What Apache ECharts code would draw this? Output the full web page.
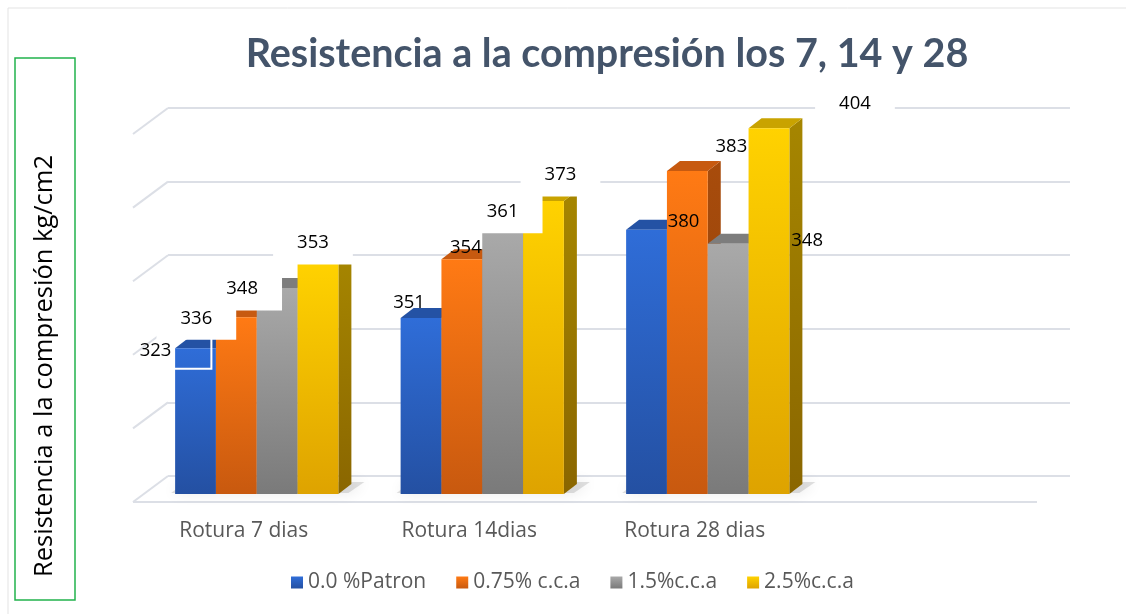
<!DOCTYPE html>
<html>
<head>
<meta charset="utf-8">
<script src="https://cdn.jsdelivr.net/npm/echarts@6/dist/echarts.min.js"></script>
<style>
  html, body { margin: 0; padding: 0; background: #fff; }
  #main { width: 1126px; height: 614px; }
</style>
</head>
<body>
<div id="main"></div>
<script>
const categories = ['Rotura 7 dias', 'Rotura 14dias', 'Rotura 28 dias', '']
const seriesNames = ['0.0 %Patron', '0.75% c.c.a', '1.5%c.c.a', '2.5%c.c.a']

// column heights as drawn (hidden axis, 0-500)
const patron = [198, 239, 359]
const cca075 = [240, 319, 439]
const cca15 = [280, 355, 340]
const cca25 = [314, 398, 497]

// numbers printed on the data labels
const patronLabels = [323, 351, 380]
const cca075Labels = [336, 354, 383]
const cca15Labels = [348, 361, 348]
const cca25Labels = [353, 373, 404]

const yTicks = [0, 100, 200, 300, 400, 500]

const heights = [patron, cca075, cca15, cca25]
const labels = [patronLabels, cca075Labels, cca15Labels, cca25Labels]

// layout / style only
const FRONT_DX = -24, FRONT_DY = 18   // front face of the columns vs back wall
const DEPTH_X = 13, DEPTH_Y = -10     // column depth
const BAR_FRAC = 0.181
const labelShift = [
    [[-40, 2], [-12, -15], [37, -8]],
    [[-40, 1], [4, -11], [44, -24]],
    [[-35, 1], [0, -21], [79, -3]],
    [[-5, -20], [17, -26], [86, -24]],
]
const labelBox = [
    ['line', null, null],
    ['fill', null, null],
    ['fill', 'fill', null],
    ['fill', 'fill', 'fill'],
]
const faces = [
    { front: ['#2f6dd8', '#2450a2'], side: ['#1f4b95', '#1a3f80'], top: '#2452a4' },
    { front: ['#ff7a14', '#c8590f'], side: ['#a84c0c', '#8e3f09'], top: '#c75a10' },
    { front: ['#a9a9a9', '#7a7a7a'], side: ['#6f6f6f', '#5e5e5e'], top: '#7d7d7d' },
    { front: ['#ffd200', '#dea300'], side: ['#a68600', '#8a6600'], top: '#c9a300' },
]

const vgrad = (c) => new echarts.graphic.LinearGradient(0, 0, 0, 1, [
    { offset: 0, color: c[0] }, { offset: 1, color: c[1] }])

function barGeom(api, cat, v, s) {
    const top = api.coord([cat, v])
    const base = api.coord([cat, 0])
    const band = api.size([1, 0])[0]
    const w = band * BAR_FRAC
    const x0 = top[0] + FRONT_DX - 2 * w + s * w
    return { x0, x1: x0 + w, yt: top[1] + FRONT_DY, yb: base[1] + FRONT_DY, w }
}

function barSeries(s) {
    const f = faces[s]
    return {
        name: seriesNames[s],
        type: 'custom',
        z: 3,
        itemStyle: { color: vgrad(f.front) },
        data: heights[s].map((v, i) => [i, v]),
        renderItem(params, api) {
            const g = barGeom(api, api.value(0), api.value(1), s)
            return {
                type: 'group',
                children: [
                    { type: 'polygon', shape: { points: [[g.x1, g.yt], [g.x1 + DEPTH_X, g.yt + DEPTH_Y],
                        [g.x1 + DEPTH_X, g.yb + DEPTH_Y], [g.x1, g.yb]] },
                      style: { fill: vgrad(f.side) } },
                    { type: 'polygon', shape: { points: [[g.x0, g.yt], [g.x1, g.yt],
                        [g.x1 + DEPTH_X, g.yt + DEPTH_Y], [g.x0 + DEPTH_X, g.yt + DEPTH_Y]] },
                      style: { fill: f.top } },
                    { type: 'rect', shape: { x: g.x0, y: g.yt, width: g.w, height: g.yb - g.yt },
                      style: { fill: vgrad(f.front) } },
                ]
            }
        }
    }
}

const labelData = []
labels.forEach((arr, s) => arr.forEach((t, i) => labelData.push([i, heights[s][i], s, t])))

const option = {
    animation: false,
    backgroundColor: '#fff',
    title: {
        text: 'Resistencia a la compresión los 7, 14 y 28',
        left: 607, top: 34, padding: 0, textAlign: 'center',
        textStyle: { fontFamily: 'Lato', fontWeight: 'bold', fontSize: 39.5, color: '#44546a' }
    },
    legend: {
        data: seriesNames,
        left: 286, top: 567,
        icon: 'rect', itemWidth: 12, itemHeight: 12, itemGap: 30,
        textStyle: { fontFamily: 'Open Sans', fontSize: 21, color: '#595959' }
    },
    grid: { left: 168, right: 56, top: 108, bottom: 138 },
    xAxis: {
        type: 'category',
        data: categories,
        axisLine: { show: false }, axisTick: { show: false },
        axisLabel: { margin: 45, padding: [0, 74, 0, 0], fontFamily: 'Open Sans', fontSize: 21, color: '#595959' }
    },
    yAxis: {
        type: 'value', min: 0, max: 500, interval: 100,
        axisLabel: { show: false }, axisLine: { show: false }, axisTick: { show: false },
        splitLine: { lineStyle: { color: '#dcdfe6', width: 2 } }
    },
    graphic: [
        { type: 'rect', shape: { x: 8, y: 8, width: 1200, height: 700 },
          style: { fill: 'none', stroke: '#e3e3e3', lineWidth: 1 } },
        { type: 'rect', shape: { x: 15, y: 58, width: 60, height: 542 },
          style: { fill: '#fff', stroke: '#22b24c', lineWidth: 1.5 } },
        { type: 'text', x: 45, y: 366, rotation: Math.PI / 2,
          style: { text: 'Resistencia a la compresión kg/cm2', fontFamily: 'Open Sans', fontSize: 25.5,
                   fill: '#000', align: 'center', verticalAlign: 'middle' } },
    ],
    series: [
        {
            type: 'custom', z: 1, silent: true,
            data: yTicks.map(v => [0, v]),
            renderItem(params, api) {
                const cs = params.coordSys
                const y = api.coord([0, api.value(1)])[1]
                const lineStyle = { stroke: '#dcdfe6', lineWidth: 2 }
                const kids = [{ type: 'line', shape: { x1: cs.x - 35, y1: y + 26, x2: cs.x, y2: y }, style: lineStyle }]
                if (api.value(1) === 0) {
                    kids.push({ type: 'line', shape: { x1: cs.x - 35, y1: y + 26, x2: cs.x + cs.width - 33, y2: y + 26 }, style: lineStyle })
                }
                return { type: 'group', children: kids }
            }
        },
        {
            type: 'custom', z: 2, silent: true,
            data: [0, 1, 2].map(i => [i, 0]),
            renderItem(params, api) {
                const a = barGeom(api, api.value(0), 0, 0)
                const b = barGeom(api, api.value(0), 0, 3)
                return {
                    type: 'polygon',
                    shape: { points: [[a.x0 - 4, a.yb - 1], [b.x1 + 10, a.yb - 1], [b.x1 + 26, a.yb - 12], [a.x0 + 10, a.yb - 12]] },
                    style: { fill: 'rgba(90,90,90,0.18)', shadowBlur: 14, shadowColor: 'rgba(0,0,0,0.55)' }
                }
            }
        },
        barSeries(0), barSeries(1), barSeries(2), barSeries(3),
        {
            type: 'custom', z: 10, silent: true,
            data: labelData,
            renderItem(params, api) {
                const i = api.value(0), s = api.value(2)
                const g = barGeom(api, i, api.value(1), s)
                const sh = labelShift[s][i]
                const box = labelBox[s][i]
                const style = {
                    text: String(labels[s][i]), fontFamily: 'Open Sans', fontSize: 18.5, fill: '#000',
                    align: 'center', verticalAlign: 'middle'
                }
                if (box === 'fill') Object.assign(style, { backgroundColor: '#fff', padding: [12, 24] })
                if (box === 'line') Object.assign(style, { borderColor: '#fff', borderWidth: 2, padding: [9, 40] })
                return { type: 'text', x: g.x0 + g.w / 2 + sh[0], y: g.yt + sh[1], style }
            }
        }
    ]
}

echarts.init(document.getElementById('main')).setOption(option)
</script>
</body>
</html>
